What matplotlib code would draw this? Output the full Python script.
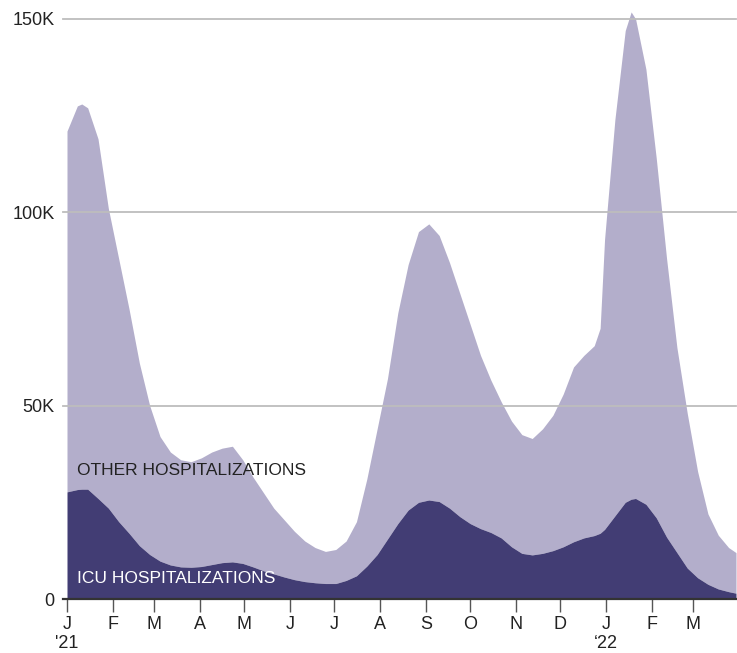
import pandas as pd
import matplotlib.pyplot as plt

plt.rcParams['font.family'] = ['Liberation Sans', 'DejaVu Sans']

# mostly weekly readings (thousands), with a few extra points at the peaks
dates = pd.to_datetime([
    '2021-01-01', '2021-01-08', '2021-01-11', '2021-01-15', '2021-01-22', '2021-01-29',
    '2021-02-05', '2021-02-12', '2021-02-19', '2021-02-26', '2021-03-05', '2021-03-12',
    '2021-03-19', '2021-03-26', '2021-04-02', '2021-04-09', '2021-04-16', '2021-04-23',
    '2021-04-30', '2021-05-07', '2021-05-14', '2021-05-21', '2021-05-28', '2021-06-04',
    '2021-06-11', '2021-06-18', '2021-06-25', '2021-07-02', '2021-07-09', '2021-07-16',
    '2021-07-23', '2021-07-30', '2021-08-06', '2021-08-13', '2021-08-20', '2021-08-27',
    '2021-09-03', '2021-09-10', '2021-09-17', '2021-09-24', '2021-10-01', '2021-10-08',
    '2021-10-15', '2021-10-22', '2021-10-29', '2021-11-05', '2021-11-12', '2021-11-19',
    '2021-11-26', '2021-12-03', '2021-12-10', '2021-12-17', '2021-12-24', '2021-12-28',
    '2021-12-31', '2022-01-07', '2022-01-14', '2022-01-18', '2022-01-21', '2022-01-28',
    '2022-02-04', '2022-02-11', '2022-02-18', '2022-02-25', '2022-03-04', '2022-03-11',
    '2022-03-18', '2022-03-25', '2022-03-30'])

total = [121, 127.5, 128, 127, 119, 101, 88, 75, 61, 50, 42,
         38, 36, 35.5, 36.5, 38, 39, 39.5, 36, 31.5, 27.5,
         23.5, 20.5, 17.5, 15, 13.3, 12.3, 12.8, 15, 20, 31,
         44, 57, 74, 86.5, 95, 97, 94, 87, 79, 71,
         63, 56.6, 51, 46, 42.5, 41.5, 44, 47.5, 53, 60,
         63, 65.5, 70, 93, 124, 147, 151.8, 150, 137, 114, 88, 65,
         48, 33, 22, 16.5, 13.3, 12]

icu = [27.7, 28.3, 28.4, 28.4, 26, 23.5, 20, 17, 13.8, 11.5, 9.8,
       8.8, 8.3, 8.2, 8.4, 8.9, 9.4, 9.6, 9.2, 8.3, 7.3,
       6.5, 5.7, 5.0, 4.5, 4.2, 4.0, 4.0, 4.8, 6, 8.5,
       11.5, 15.5, 19.5, 23, 25, 25.6, 25.2, 23.5, 21.3, 19.5,
       18.2, 17.2, 15.8, 13.5, 11.8, 11.4, 11.8, 12.5, 13.5, 14.8,
       15.8, 16.4, 17, 18, 21.5, 25, 25.8, 26, 24.5, 21, 16, 12,
       8, 5.5, 3.8, 2.6, 1.9, 1.5]

df = pd.DataFrame({'date': dates, 'total': total, 'icu': icu})
df[['total', 'icu']] *= 1000

light = '#b3aecb'
dark = '#423d74'

fig = plt.figure(figsize=(7.37, 6.53), dpi=100)
ax = fig.add_axes([67/737, 54/653, 669/737, 589/653])

ax.fill_between(df['date'], df['icu'], df['total'], color=light, lw=0, zorder=1)
ax.fill_between(df['date'], 0, df['icu'], color=dark, lw=0, zorder=2)

ax.set_xlim(pd.Timestamp('2021-01-01'), pd.Timestamp('2022-03-30'))
ax.set_ylim(0, 152300)

# gridlines drawn on top, reaching a little left of the data
for v in [50000, 100000, 150000]:
    ax.plot([-4/669, 1], [v, v], transform=ax.get_yaxis_transform(),
            color='#bdbdbd', lw=1.3, zorder=3, clip_on=False)
ax.plot([-4/669, 1], [0, 0], transform=ax.get_yaxis_transform(),
        color='#333333', lw=1.6, zorder=4, clip_on=False)

for s in ax.spines.values():
    s.set_visible(False)

ax.set_yticks([0, 50000, 100000, 150000], ['0', '50K', '100K', '150K'])
ax.tick_params(axis='y', length=0, pad=9, labelsize=13, labelcolor='#222222')

ticks = pd.date_range('2021-01-01', '2022-03-01', freq='MS')
ax.set_xticks(ticks)
ax.set_xticklabels([d.strftime('%b')[0] for d in ticks])
ax.tick_params(axis='x', length=9, width=1, color='#555555', pad=3,
               labelsize=13, labelcolor='#222222')

ax.text(pd.Timestamp('2021-01-01'), -0.061, "'21", transform=ax.get_xaxis_transform(),
        ha='center', va='top', fontsize=13, color='#222222')
ax.text(pd.Timestamp('2022-01-01'), -0.061, "\u201822", transform=ax.get_xaxis_transform(),
        ha='center', va='top', fontsize=13, color='#222222')

ax.text(pd.Timestamp('2021-01-08'), 33200, 'OTHER HOSPITALIZATIONS',
        fontsize=12.5, color='#222222', va='center', zorder=5)
ax.text(pd.Timestamp('2021-01-08'), 5200, 'ICU HOSPITALIZATIONS',
        fontsize=12.5, color='white', va='center', zorder=5)

fig.savefig('out.png', dpi=100)
